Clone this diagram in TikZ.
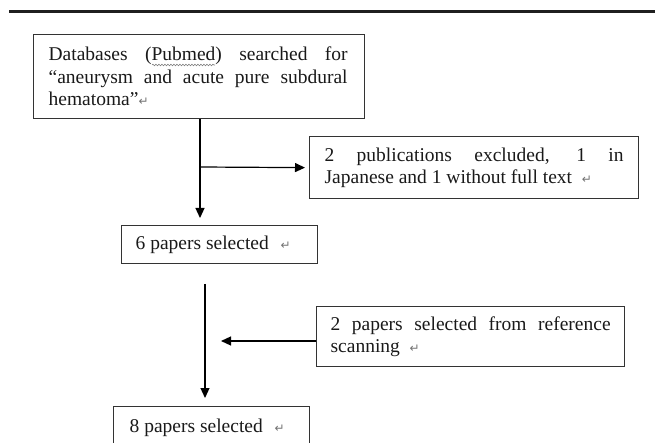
\documentclass[tikz,border=0pt]{standalone}
\usepackage{fontspec}
\setmainfont{Liberation Serif}
\newfontfamily\symfont{DejaVu Sans}
\usetikzlibrary{arrows.meta,decorations.pathmorphing}
\newcommand{\pmark}{{\symfont\fontsize{12}{12}\selectfont\color{black!55}↵}}
\newcommand{\jline}[2]{\makebox[#1][s]{\spaceskip=0pt\xspaceskip=0pt\relax #2}}
\begin{document}
\begin{tikzpicture}[x=1pt,y=-1pt,
  box/.style={draw=black!80, line width=1.3pt, anchor=north west, inner xsep=15pt,
    inner ysep=0pt, align=left, font=\fontsize{19.5}{22.5}\selectfont, text=black!90,
    execute at begin node={\spaceskip=0pt\xspaceskip=0pt\relax}},
  arr/.style={draw=black, line width=1.2pt, -{Triangle[length=10pt,width=9pt]}},
]
\useasboundingbox (0,0) rectangle (655,443);
\draw[line width=3pt, black!88] (9,11.5) -- (655,11.5);

\node[box, minimum width=331pt, minimum height=84pt, text width=301pt] (db) at (33,34)
  {\jline{299pt}{Databases (Pubmed) searched for}\\
   \jline{299pt}{“aneurysm and acute pure subdural}\\
   hematoma”\pmark};
\draw[black!50, line width=0.6pt, decorate, decoration={snake, amplitude=0.8pt, segment length=3pt}]
  (152,65) -- (215,65);

\node[box, minimum width=329pt, minimum height=62pt, text width=299pt] (ex) at (309,136)
  {\jline{299pt}{2 publications excluded, 1 in}\\
   Japanese and 1 without full text\hspace{0.5em}\pmark};

\node[box, inner xsep=14pt, minimum width=196pt, minimum height=38pt, text width=168pt] (six) at (121,225)
  {6 papers selected\hspace{0.6em}\pmark};

\node[box, inner xsep=14pt, minimum width=308pt, minimum height=60pt, text width=280pt] (ref) at (316,306)
  {\jline{280pt}{2 papers selected from reference}\\
   scanning\hspace{0.5em}\pmark};

\node[box, inner xsep=16pt, minimum width=196pt, minimum height=42pt, text width=164pt] (eight) at (113,406)
  {8 papers selected\hspace{0.6em}\pmark};

\coordinate (t1) at (200,218);
\coordinate (b1) at (200,167);
\coordinate (s2) at (205,284);
\coordinate (t2) at (205,398);
\coordinate (t3) at (221,341);

\draw[arr] (db.south -| t1) -- (t1);
\draw[arr, shorten >=4pt] (b1) -- (ex.west);
\draw[arr] (s2) -- (t2);
\draw[arr] (ref.west |- t3) -- (t3);
\end{tikzpicture}
\end{document}
